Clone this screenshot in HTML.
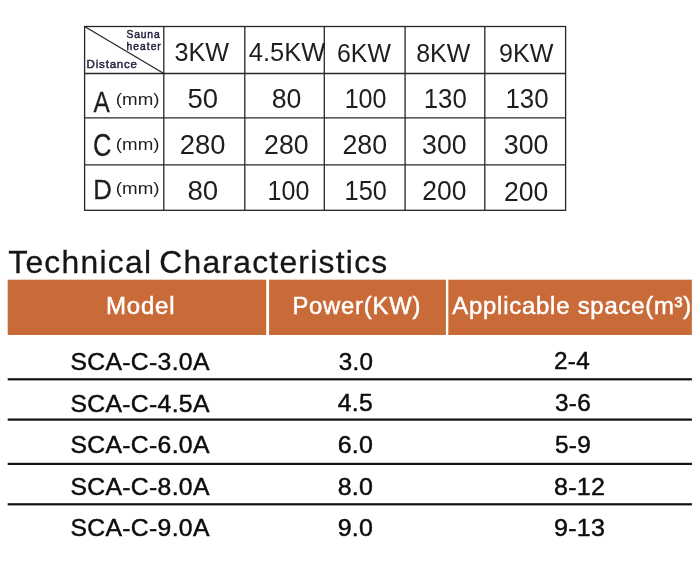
<!DOCTYPE html>
<html><head><meta charset="utf-8">
<style>
html,body{margin:0;padding:0;background:#fff;}
body{width:700px;height:577px;overflow:hidden;}
svg{display:block;font-family:"Liberation Sans",sans-serif;}
</style></head><body>
<svg width="700" height="577" viewBox="0 0 700 577">
<g stroke="#262626" stroke-width="1.3" fill="none">
<rect x="84.6" y="26.5" width="481" height="183.8"/>
<line x1="163.8" y1="26.5" x2="163.8" y2="210.3"/>
<line x1="244.8" y1="26.5" x2="244.8" y2="210.3"/>
<line x1="324.3" y1="26.5" x2="324.3" y2="210.3"/>
<line x1="405.1" y1="26.5" x2="405.1" y2="210.3"/>
<line x1="484.8" y1="26.5" x2="484.8" y2="210.3"/>
<line x1="84.6" y1="73.5" x2="565.6" y2="73.5"/>
<line x1="84.6" y1="117.9" x2="565.6" y2="117.9"/>
<line x1="84.6" y1="164.9" x2="565.6" y2="164.9"/>
<line x1="84.6" y1="26.5" x2="163.8" y2="73.5"/>
</g>
<g fill="#c96b38">
<rect x="7.7" y="279.7" width="258.5" height="55.3"/>
<rect x="269.1" y="279.7" width="176.8" height="55.3"/>
<rect x="448.3" y="279.7" width="243.6" height="55.3"/>
</g>
<g fill="#111">
<rect x="7.7" y="378.2" width="684.2" height="2.2"/>
<rect x="7.7" y="418.5" width="684.2" height="2.2"/>
<rect x="7.7" y="462.8" width="684.2" height="2.2"/>
<rect x="7.7" y="503.2" width="684.2" height="2.2"/>
</g>
<g>
<text transform="translate(126.60 37.90) scale(1.0000 1)" font-size="10.3" fill="#22223f" letter-spacing="0.813" stroke="#22223f" stroke-width="0.45">Sauna</text>
<text transform="translate(126.60 49.80) scale(0.9999 1)" font-size="10.3" fill="#22223f" letter-spacing="1.007" stroke="#22223f" stroke-width="0.45">heater</text>
<text transform="translate(86.60 67.60) scale(1.0000 1)" font-size="11.5" fill="#22223f" letter-spacing="0.808" stroke="#22223f" stroke-width="0.45">Distance</text>
<text transform="translate(174.40 61.40) scale(0.9875 1)" font-size="25.5" fill="#1e1e1e">3KW</text>
<text transform="translate(248.80 61.40) scale(1.0006 1)" font-size="25.5" fill="#1e1e1e">4.5KW</text>
<text transform="translate(337.03 61.50) scale(0.9743 1)" font-size="25.5" fill="#1e1e1e">6KW</text>
<text transform="translate(416.22 61.50) scale(0.9780 1)" font-size="25.5" fill="#1e1e1e">8KW</text>
<text transform="translate(499.12 61.50) scale(0.9836 1)" font-size="25.5" fill="#1e1e1e">9KW</text>
<text transform="translate(93.60 111.60) scale(0.8300 1)" font-size="29.3" fill="#1e1e1e" stroke="#1e1e1e" stroke-width="0.3">A</text>
<text transform="translate(93.07 155.50) scale(0.8350 1)" font-size="30.5" fill="#1e1e1e" stroke="#1e1e1e" stroke-width="0.3">C</text>
<text transform="translate(93.19 199.20) scale(0.9056 1)" font-size="28.5" fill="#1e1e1e" stroke="#1e1e1e" stroke-width="0.3">D</text>
<text transform="translate(115.86 105.40) scale(1.1356 1)" font-size="16.5" fill="#1e1e1e">(mm)</text>
<text transform="translate(115.86 150.10) scale(1.1356 1)" font-size="16.5" fill="#1e1e1e">(mm)</text>
<text transform="translate(115.86 194.40) scale(1.1356 1)" font-size="16.5" fill="#1e1e1e">(mm)</text>
<text transform="translate(187.58 107.80) scale(1.0173 1)" font-size="27" fill="#1e1e1e">50</text>
<text transform="translate(271.71 107.80) scale(0.9887 1)" font-size="27" fill="#1e1e1e">80</text>
<text transform="translate(344.64 107.80) scale(0.9302 1)" font-size="27" fill="#1e1e1e">100</text>
<text transform="translate(423.69 107.80) scale(0.9564 1)" font-size="27" fill="#1e1e1e">130</text>
<text transform="translate(505.49 107.80) scale(0.9564 1)" font-size="27" fill="#1e1e1e">130</text>
<text transform="translate(179.79 153.70) scale(1.0132 1)" font-size="27" fill="#1e1e1e">280</text>
<text transform="translate(264.11 153.70) scale(0.9876 1)" font-size="27" fill="#1e1e1e">280</text>
<text transform="translate(342.41 153.70) scale(0.9900 1)" font-size="27" fill="#1e1e1e">280</text>
<text transform="translate(422.11 153.70) scale(0.9876 1)" font-size="27" fill="#1e1e1e">300</text>
<text transform="translate(503.81 153.70) scale(0.9900 1)" font-size="27" fill="#1e1e1e">300</text>
<text transform="translate(187.38 199.90) scale(1.0244 1)" font-size="27" fill="#1e1e1e">80</text>
<text transform="translate(267.54 199.90) scale(0.9279 1)" font-size="27" fill="#1e1e1e">100</text>
<text transform="translate(344.52 199.90) scale(0.9398 1)" font-size="27" fill="#1e1e1e">150</text>
<text transform="translate(422.32 199.90) scale(0.9807 1)" font-size="27" fill="#1e1e1e">200</text>
<text transform="translate(504.02 200.70) scale(0.9830 1)" font-size="27" fill="#1e1e1e">200</text>
<text transform="translate(8.20 272.80) scale(1.0000 1)" font-size="31.8" fill="#161616" letter-spacing="1.288" stroke="#161616" stroke-width="0.3">Technical</text>
<text transform="translate(159.20 272.80) scale(1.0000 1)" font-size="31.8" fill="#161616" letter-spacing="1.267" stroke="#161616" stroke-width="0.3">Characteristics</text>
<text transform="translate(106.00 313.60) scale(1.0010 1)" font-size="24" fill="#fff" letter-spacing="0.8" stroke="#fff" stroke-width="0.5">Model</text>
<text transform="translate(292.41 313.60) scale(0.9923 1)" font-size="24" fill="#fff" letter-spacing="0.8" stroke="#fff" stroke-width="0.5">Power(KW)</text>
<text transform="translate(452.30 313.60) scale(0.9940 1)" font-size="24" fill="#fff" letter-spacing="0.8" stroke="#fff" stroke-width="0.5">Applicable space(m³)</text>
<text transform="translate(70.55 370.00) scale(1.0525 1)" font-size="23.5" fill="#0c0c0c" letter-spacing="0.3" stroke="#0c0c0c" stroke-width="0.45">SCA-C-3.0A</text>
<text transform="translate(338.70 369.60) scale(1.0302 1)" font-size="23.5" fill="#0c0c0c" letter-spacing="0.3" stroke="#0c0c0c" stroke-width="0.45">3.0</text>
<text transform="translate(70.55 411.50) scale(1.0525 1)" font-size="23.5" fill="#0c0c0c" letter-spacing="0.3" stroke="#0c0c0c" stroke-width="0.45">SCA-C-4.5A</text>
<text transform="translate(337.80 411.20) scale(1.0482 1)" font-size="23.5" fill="#0c0c0c" letter-spacing="0.3" stroke="#0c0c0c" stroke-width="0.45">4.5</text>
<text transform="translate(70.55 453.20) scale(1.0525 1)" font-size="23.5" fill="#0c0c0c" letter-spacing="0.3" stroke="#0c0c0c" stroke-width="0.45">SCA-C-6.0A</text>
<text transform="translate(337.64 453.00) scale(1.0622 1)" font-size="23.5" fill="#0c0c0c" letter-spacing="0.3" stroke="#0c0c0c" stroke-width="0.45">6.0</text>
<text transform="translate(70.55 494.80) scale(1.0525 1)" font-size="23.5" fill="#0c0c0c" letter-spacing="0.3" stroke="#0c0c0c" stroke-width="0.45">SCA-C-8.0A</text>
<text transform="translate(337.64 494.70) scale(1.0622 1)" font-size="23.5" fill="#0c0c0c" letter-spacing="0.3" stroke="#0c0c0c" stroke-width="0.45">8.0</text>
<text transform="translate(70.55 536.30) scale(1.0525 1)" font-size="23.5" fill="#0c0c0c" letter-spacing="0.3" stroke="#0c0c0c" stroke-width="0.45">SCA-C-9.0A</text>
<text transform="translate(337.64 536.30) scale(1.0622 1)" font-size="23.5" fill="#0c0c0c" letter-spacing="0.3" stroke="#0c0c0c" stroke-width="0.45">9.0</text>
<text transform="translate(553.96 369.20) scale(1.0446 1)" font-size="23.3" fill="#0c0c0c" letter-spacing="0.3" stroke="#0c0c0c" stroke-width="0.45">2-4</text>
<text transform="translate(555.00 410.90) scale(1.0446 1)" font-size="23.3" fill="#0c0c0c" letter-spacing="0.3" stroke="#0c0c0c" stroke-width="0.45">3-6</text>
<text transform="translate(555.00 452.80) scale(1.0446 1)" font-size="23.3" fill="#0c0c0c" letter-spacing="0.3" stroke="#0c0c0c" stroke-width="0.45">5-9</text>
<text transform="translate(553.92 494.60) scale(1.0752 1)" font-size="23.3" fill="#0c0c0c" letter-spacing="0.3" stroke="#0c0c0c" stroke-width="0.45">8-12</text>
<text transform="translate(553.92 536.30) scale(1.0752 1)" font-size="23.3" fill="#0c0c0c" letter-spacing="0.3" stroke="#0c0c0c" stroke-width="0.45">9-13</text>
</g>
</svg>
</body></html>
